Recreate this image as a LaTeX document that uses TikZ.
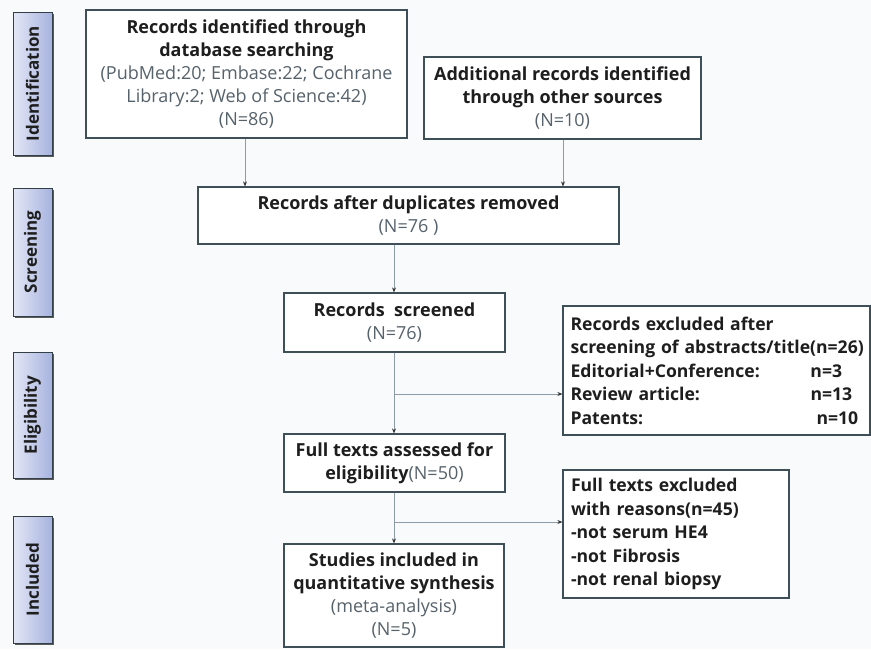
\documentclass[tikz,border=0pt]{standalone}
\usepackage{fontspec}
\setmainfont{Open Sans}
\usetikzlibrary{arrows.meta,shadows}
\definecolor{bgc}{HTML}{F9FAFC}
\definecolor{boxline}{HTML}{3E4F58}
\definecolor{arrline}{HTML}{8C9BA6}
\definecolor{txt}{HTML}{1E1E1E}
\definecolor{subtxt}{HTML}{56626B}
\definecolor{sideL}{HTML}{E4E7F6}
\definecolor{sideR}{HTML}{A7B3DF}
\begin{document}
\begin{tikzpicture}[x=1pt,y=-1pt,
  flowbox/.style={draw=boxline,line width=1.2pt,fill=white,rectangle,inner sep=0pt,align=center,text=txt,font=\fontsize{18}{23}\selectfont},
  exbox/.style={draw=boxline,line width=1.2pt,fill=white,rectangle,inner sep=0pt,text=txt,font=\fontsize{17.6}{23.5}\selectfont\bfseries},
  sidebox/.style={draw=boxline!80!black,line width=0.8pt,left color=sideL,right color=sideR,rectangle,inner sep=0pt,minimum width=39pt,
     drop shadow={shadow xshift=2pt,shadow yshift=-2pt,fill=black!75,opacity=0.85}},
  sidetext/.style={rotate=90,text=txt,font=\fontsize{17}{18}\selectfont\bfseries},
  arr/.style={draw=arrline,line width=0.9pt,-{Stealth[length=5pt,width=4pt,color=black!80]}},
  ln/.style={draw=arrline,line width=0.9pt}]
\fill[bgc] (0,0) rectangle (871,649);
\useasboundingbox (0,0) rectangle (871,649);
\newcommand{\sub}[1]{{\mdseries\color{subtxt}#1}}
% side labels
\node[sidebox,minimum height=143pt] (idf) at (32.5,83.5) {};
\node[sidetext] (idft) at (idf) {Identification};
\node[sidebox,minimum height=128pt] (scn) at (32.5,252) {};
\node[sidetext] (scnt) at (scn) {Screening};
\node[sidebox,minimum height=126pt] (elg) at (32.5,415) {};
\node[sidetext] (elgt) at (elg) {Eligibility};
\node[sidebox,minimum height=127pt] (inl) at (32.5,579.5) {};
\node[sidetext] (inlt) at (inl) {Included};
% boxes
\node[flowbox,minimum width=321pt,minimum height=128pt] (db) at (246.5,74) {\bfseries Records identified through\\\bfseries database searching\\\sub{(PubMed:20; Embase:22; Cochrane}\\\sub{Library:2; Web of Science:42)}\\\sub{(N=86)}};
\node[flowbox,minimum width=277pt,minimum height=82pt] (add) at (562.5,98) {\bfseries Additional records identified\\\bfseries through other sources\\\sub{(N=10)}};
\node[flowbox,minimum width=421pt,minimum height=57pt] (dup) at (408.5,215.5) {\bfseries Records after duplicates removed\\\sub{(N=76 )}};
\node[flowbox,minimum width=221pt,minimum height=59pt] (scr) at (394.5,322.5) {\bfseries Records\ \ screened\\\sub{(N=76)}};
\node[flowbox,minimum width=221pt,minimum height=58pt] (full) at (394.5,463) {\bfseries Full texts assessed for\\\bfseries eligibility\sub{(N=50)}};
\node[flowbox,minimum width=220pt,minimum height=103pt] (inc) at (394,595.5) {\bfseries Studies included in\\\bfseries quantitative synthesis\\\sub{(meta-analysis)}\\\sub{(N=5)}};
\node[exbox,minimum width=307pt,minimum height=129pt,align=left,text width=302pt] (exc1) at (716.5,370.5) {\hspace*{5pt}Records excluded after\\\hspace*{5pt}screening of abstracts/title(n=26)\\\hspace*{5pt}\makebox[240pt][l]{Editorial+Conference:}n=3\\\hspace*{5pt}\makebox[240pt][l]{Review article:}n=13\\\hspace*{5pt}\makebox[246pt][l]{Patents:}n=10};
\node[exbox,minimum width=226pt,minimum height=128pt,align=left,text width=220pt] (exc2) at (676,534) {\hspace*{5pt}Full texts excluded\\\hspace*{5pt}with reasons(n=45)\\\hspace*{5pt}-not serum HE4\\\hspace*{5pt}-not Fibrosis\\\hspace*{5pt}-not renal biopsy};
% connectors
\coordinate (s1) at (245,0);
\coordinate (s2) at (563,0);
\coordinate (s3) at (394,0);
\draw[arr] (db.south -| s1) -- (dup.north -| s1);
\draw[arr] (add.south -| s2) -- (dup.north -| s2);
\draw[arr] (dup.south -| s3) -- (scr.north -| s3);
\draw[arr] (scr.south -| s3) -- (full.north -| s3);
\draw[arr] (full.south -| s3) -- (inc.north -| s3);
\coordinate (b1) at (394,394);
\coordinate (b2) at (394,522);
\draw[arr] (b1) -- (b1 -| exc1.west);
\draw[arr] (b2) -- (b2 -| exc2.west);
\end{tikzpicture}
\end{document}
